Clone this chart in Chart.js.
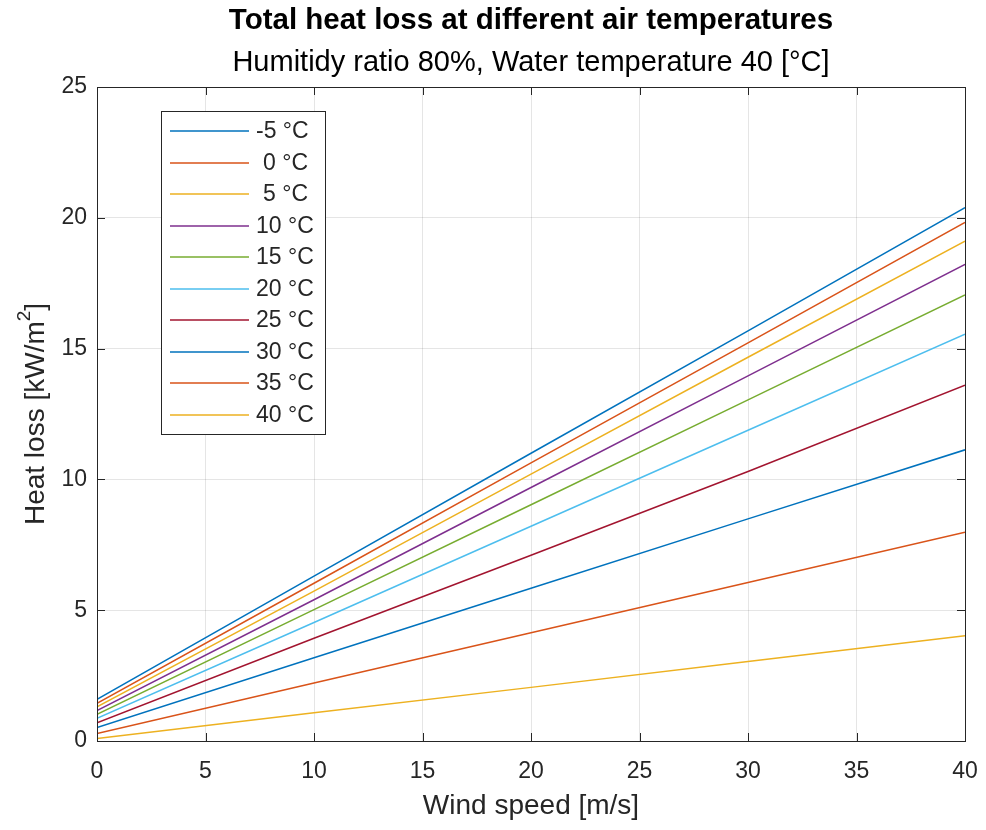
<!DOCTYPE html>
<html>
<head>
<meta charset="utf-8">
<script src="https://cdn.jsdelivr.net/npm/chart.js@4.4.1/dist/chart.umd.min.js"></script>
<style>
  html, body { margin: 0; padding: 0; background: #fff; }
</style>
</head>
<body>
<canvas id="myChart" width="986" height="830"></canvas>
<script>
// wind speed samples [m/s]
const windSpeed = [0, 10, 20, 30, 40];
const airTempLabels = ['-5 °C', ' 0 °C', ' 5 °C', '10 °C', '15 °C', '20 °C', '25 °C', '30 °C', '35 °C', '40 °C'];

// heat loss [kW/m2]
const lossM5 = [1.59, 6.30, 11.00, 15.68, 20.39];
const loss0  = [1.44, 6.03, 10.63, 15.22, 19.82];
const loss5  = [1.31, 5.73, 10.20, 14.67, 19.11];
const loss10 = [1.16, 5.40, 9.69, 13.96, 18.22];
const loss15 = [1.02, 5.02, 9.03, 13.04, 17.05];
const loss20 = [0.87, 4.53, 8.21, 11.88, 15.55];
const loss25 = [0.70, 3.93, 7.10, 10.30, 13.60];
const loss30 = [0.51, 3.18, 5.84, 8.49, 11.13];
const loss35 = [0.29, 2.22, 4.14, 6.06, 7.98];
const loss40 = [0.10, 1.08, 2.05, 3.04, 4.02];

const xTicks = [0, 5, 10, 15, 20, 25, 30, 35, 40];
const yTicks = [0, 5, 10, 15, 20, 25];

const allSeries = [lossM5, loss0, loss5, loss10, loss15, loss20, loss25, loss30, loss35, loss40];
const colors = ['#0072BD', '#D95319', '#EDB120', '#7E2F8E', '#77AC30', '#4DBEEE', '#A2142F', '#0072BD', '#D95319', '#EDB120'];

const FONT = '"Liberation Sans", Arial, Helvetica, sans-serif';
const INK = '#262626';

// titles, box, inward ticks and legend drawn like matlab does
const matlabLook = {
  id: 'matlabLook',
  afterDraw(chart) {
    const ctx = chart.ctx;
    const a = chart.chartArea;
    const xs = chart.scales.x, ys = chart.scales.y;
    ctx.save();

    // box
    ctx.strokeStyle = INK;
    ctx.lineWidth = 1;
    ctx.strokeRect(Math.round(a.left) + 0.5, Math.round(a.top) + 0.5, Math.round(a.right - a.left), Math.round(a.bottom - a.top));

    // ticks pointing inward
    const tl = 8;
    ctx.beginPath();
    xTicks.forEach(v => {
      const px = Math.round(xs.getPixelForValue(v)) + 0.5;
      ctx.moveTo(px, a.bottom); ctx.lineTo(px, a.bottom - tl);
      ctx.moveTo(px, a.top); ctx.lineTo(px, a.top + tl);
    });
    yTicks.forEach(v => {
      const py = Math.round(ys.getPixelForValue(v)) + 0.5;
      ctx.moveTo(a.left, py); ctx.lineTo(a.left + tl, py);
      ctx.moveTo(a.right, py); ctx.lineTo(a.right - tl, py);
    });
    ctx.stroke();

    // titles
    const cx = (a.left + a.right) / 2;
    ctx.fillStyle = '#000';
    ctx.textAlign = 'center';
    ctx.textBaseline = 'middle';
    ctx.font = 'bold 29.5px ' + FONT;
    ctx.fillText('Total heat loss at different air temperatures', cx, 21);
    ctx.font = '29px ' + FONT;
    ctx.fillText('Humitidy ratio 80%, Water temperature 40 [°C]', cx, 63);

    // y axis title with a real superscript
    ctx.save();
    ctx.translate(36, (a.top + a.bottom) / 2);
    ctx.rotate(-Math.PI / 2);
    ctx.fillStyle = INK;
    const main = 'Heat loss [kW/m';
    ctx.font = '28px ' + FONT;
    const wMain = ctx.measureText(main).width;
    const wBr = ctx.measureText(']').width;
    ctx.font = '19px ' + FONT;
    const wSup = ctx.measureText('2').width;
    let x0 = -(wMain + wSup + wBr) / 2;
    ctx.textAlign = 'left';
    ctx.font = '28px ' + FONT;
    ctx.fillText(main, x0, 0);
    ctx.font = '19px ' + FONT;
    ctx.fillText('2', x0 + wMain, -11);
    ctx.font = '28px ' + FONT;
    ctx.fillText(']', x0 + wMain + wSup, 0);
    ctx.restore();

    // legend
    const lx = 161, ly = 111, lw = 164, lh = 323;
    ctx.fillStyle = '#fff';
    ctx.fillRect(lx, ly, lw, lh);
    ctx.strokeStyle = INK;
    ctx.lineWidth = 1;
    ctx.strokeRect(lx + 0.5, ly + 0.5, lw, lh);
    ctx.font = '23px ' + FONT;
    ctx.textAlign = 'left';
    chart.data.datasets.forEach((ds, i) => {
      const y = Math.round(ly + 20 + i * 31.55);
      ctx.strokeStyle = ds.borderColor;
      ctx.lineWidth = 1.5;
      ctx.beginPath();
      ctx.moveTo(170, y);
      ctx.lineTo(249, y);
      ctx.stroke();
      const lab = ds.label.trim();
      const off = ds.label.startsWith(' ') ? 7 : 0;
      ctx.fillStyle = INK;
      ctx.fillText(lab, 256 + off, y + 1);
    });
    ctx.restore();
  }
};

const ctx = document.getElementById('myChart').getContext('2d');
new Chart(ctx, {
  type: 'line',
  data: {
    datasets: allSeries.map((s, i) => ({
      label: airTempLabels[i],
      data: windSpeed.map((w, j) => ({ x: w, y: s[j] })),
      borderColor: colors[i],
      borderWidth: 1.5,
      pointRadius: 0,
      fill: false,
      tension: 0
    }))
  },
  options: {
    responsive: false,
    animation: false,
    layout: { padding: { top: 87, right: 21, left: 0, bottom: 0 } },
    plugins: {
      legend: { display: false },
      title: { display: false },
      tooltip: { enabled: false }
    },
    scales: {
      x: {
        type: 'linear',
        min: 0, max: 40,
        afterBuildTicks: s => { s.ticks = xTicks.map(v => ({ value: v })); },
        afterFit: s => { s.height = 89; s.paddingLeft = 0; s.paddingRight = 0; },
        grid: { color: 'rgba(0,0,0,0.1)', drawTicks: false },
        border: { display: false },
        ticks: { color: INK, font: { family: FONT, size: 23 }, padding: 17, maxRotation: 0 },
        title: { display: true, text: 'Wind speed [m/s]', color: INK, font: { family: FONT, size: 28 }, padding: { top: 0, bottom: 7 } }
      },
      y: {
        min: 0, max: 25,
        afterBuildTicks: s => { s.ticks = yTicks.map(v => ({ value: v })); },
        afterFit: s => { s.width = 97; s.paddingTop = 0; s.paddingBottom = 0; },
        grid: { color: 'rgba(0,0,0,0.1)', drawTicks: false },
        border: { display: false },
        ticks: { color: INK, font: { family: FONT, size: 23 }, padding: 10 },
        title: { display: false }
      }
    }
  },
  plugins: [matlabLook]
});
</script>
</body>
</html>
